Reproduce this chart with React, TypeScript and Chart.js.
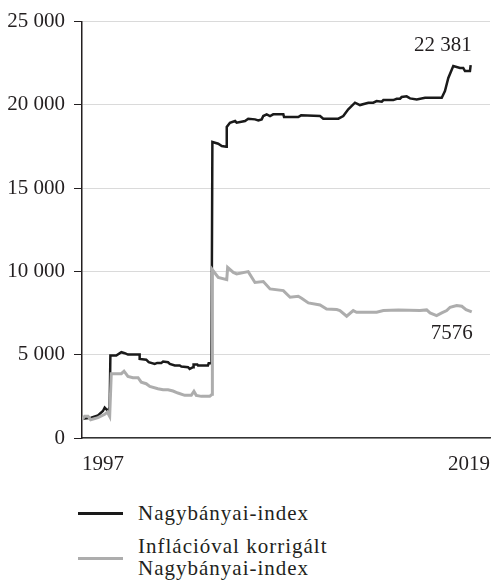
import React, { useEffect, useRef } from 'react';
import { Chart, registerables } from 'chart.js';

Chart.register(...registerables);

// ---- Data (x = year as decimal, y = index value) ----
const blackYears = [
  1997.0, 1997.52, 1997.9, 1998.18, 1998.28, 1998.47, 1998.56, 1998.6, 1998.93, 1999.22,
  1999.41, 1999.59, 2000.25, 2000.25, 2000.62, 2000.76, 2001.1, 2001.24, 2001.47, 2001.57,
  2001.85, 2001.95, 2002.23, 2002.51, 2002.6, 2002.98, 2003.07, 2003.26, 2003.29, 2003.5,
  2003.54, 2004.1, 2004.14, 2004.3, 2004.35, 2004.68, 2004.88, 2005.13, 2005.16, 2005.34,
  2005.63, 2005.72, 2006.19, 2006.37, 2006.75, 2006.94, 2007.13, 2007.22, 2007.41, 2007.6,
  2007.78, 2008.35, 2008.39, 2009.19, 2009.35, 2010.42, 2010.6, 2011.45, 2011.73, 2012.01,
  2012.39, 2012.67, 2013.14, 2013.42, 2013.61, 2013.9, 2013.99, 2014.55, 2014.74, 2014.93,
  2015.02, 2015.3, 2015.49, 2015.87, 2016.34, 2017.28, 2017.46, 2017.65, 2017.93, 2018.31,
  2018.49, 2018.59, 2018.87, 2018.91,
];
const blackValues = [
  1150, 1220, 1360, 1620, 1820, 1620, 1860, 4950, 4950, 5150,
  5090, 5010, 5010, 4750, 4700, 4550, 4450, 4510, 4510, 4590,
  4550, 4450, 4350, 4350, 4290, 4250, 4150, 4250, 4410, 4410,
  4350, 4350, 4490, 4490, 17770, 17670, 17530, 17490, 18670, 18930,
  19030, 18930, 19030, 19170, 19130, 19070, 19130, 19330, 19430, 19330,
  19430, 19430, 19270, 19270, 19370, 19330, 19170, 19170, 19330, 19730,
  20130, 19990, 20130, 20130, 20230, 20190, 20290, 20290, 20370, 20370,
  20470, 20510, 20390, 20330, 20430, 20430, 20830, 21620, 22330, 22220,
  22220, 22030, 22030, 22381,
];
const grayYears = [
  1997.0, 1997.15, 1997.34, 1997.49, 1997.9, 1998.28, 1998.43, 1998.56, 1998.65, 1999.22,
  1999.37, 1999.59, 1999.87, 2000.16, 2000.34, 2000.62, 2000.82, 2001.28, 2001.57, 2001.85,
  2002.13, 2002.41, 2002.79, 2003.16, 2003.31, 2003.44, 2003.73, 2004.2, 2004.33, 2004.35,
  2004.68, 2005.16, 2005.21, 2005.53, 2005.72, 2006.37, 2006.75, 2007.22, 2007.6, 2008.35,
  2008.73, 2009.19, 2009.38, 2009.76, 2010.42, 2010.79, 2011.36, 2011.54, 2011.92, 2012.29,
  2012.48, 2013.61, 2013.99, 2014.83, 2016.05, 2016.43, 2016.62, 2016.99, 2017.28, 2017.56,
  2017.75, 2018.12, 2018.41, 2018.65, 2018.97,
];
const grayValues = [
  1100, 1300, 1300, 1100, 1220, 1420, 1560, 1300, 3860, 3860,
  4010, 3700, 3620, 3620, 3350, 3260, 3100, 2960, 2900, 2900,
  2820, 2700, 2560, 2560, 2800, 2560, 2500, 2500, 2620, 10100,
  9640, 9510, 10240, 9940, 9850, 9990, 9340, 9390, 8950, 8850,
  8450, 8510, 8390, 8110, 7990, 7750, 7710, 7650, 7310, 7650,
  7550, 7550, 7650, 7690, 7650, 7690, 7510, 7350, 7510, 7650,
  7850, 7950, 7910, 7710, 7576,
];

const yTickValues = [0, 5000, 10000, 15000, 20000, 25000];
const xTickValues = [1997, 2020];
const xTickLabels = ['1997', '2019'];
const seriesNames = ['Nagybányai-index', 'Inflációval korrigált', 'Nagybányai-index'];
const endLabels = ['22 381', '7576'];

const FONT = "'Liberation Serif', 'Times New Roman', serif";
const TEXT = '#231f20';
const BLACK = '#1a1a1a';
const GRAY = '#adadad';

const fmt = (v: number) => String(v).replace(/\B(?=(\d{3})+(?!\d))/g, ' ');

const endLabelPlugin = {
  id: 'endLabels',
  afterDatasetsDraw(chart: any) {
    const ctx = chart.ctx;
    ctx.save();
    ctx.font = `21px ${FONT}`;
    ctx.fillStyle = TEXT;
    ctx.textAlign = 'right';
    ctx.textBaseline = 'alphabetic';
    const m0 = chart.getDatasetMeta(0);
    const p0 = m0.data[m0.data.length - 1];
    ctx.fillText(endLabels[0], p0.x + 1, p0.y - 14);
    const m1 = chart.getDatasetMeta(1);
    const p1 = m1.data[m1.data.length - 1];
    ctx.fillText(endLabels[1], p1.x + 1, p1.y + 27);
    ctx.restore();
  },
};

export default function App() {
  const ref = useRef<HTMLCanvasElement | null>(null);

  useEffect(() => {
    if (!ref.current) return;
    const chart = new Chart(ref.current, {
      type: 'line',
      data: {
        datasets: [
          {
            label: seriesNames[0],
            data: blackYears.map((x, i) => ({ x, y: blackValues[i] })),
            borderColor: BLACK,
            borderWidth: 2.5,
            pointRadius: 0,
            tension: 0,
            order: 1,
          },
          {
            label: seriesNames[1] + ' ' + seriesNames[2],
            data: grayYears.map((x, i) => ({ x, y: grayValues[i] })),
            borderColor: GRAY,
            borderWidth: 3,
            pointRadius: 0,
            tension: 0,
            order: 0,
          },
        ],
      },
      options: {
        animation: false,
        responsive: false,
        maintainAspectRatio: false,
        layout: { padding: { top: 20, right: 2, left: 0, bottom: 0 } },
        plugins: {
          legend: { display: false },
          tooltip: { enabled: false },
        },
        scales: {
          x: {
            type: 'linear',
            min: xTickValues[0],
            max: xTickValues[1],
            afterFit: (s: any) => {
              s.height = 42;
              s.paddingLeft = 0;
              s.paddingRight = 0;
            },
            afterBuildTicks: (s: any) => {
              s.ticks = xTickValues.map((v) => ({ value: v }));
            },
            ticks: {
              callback: (_v: any, i: number) => xTickLabels[i],
              align: 'inner',
              maxRotation: 0,
              autoSkip: false,
              padding: 14,
              font: { family: FONT, size: 21 },
              color: TEXT,
            },
            grid: { display: false, drawTicks: false, tickLength: 0 },
            border: { display: true, color: '#333333', width: 1.5 },
          },
          y: {
            min: 0,
            max: 25000,
            afterFit: (s: any) => {
              s.width = 82;
            },
            afterBuildTicks: (s: any) => {
              s.ticks = yTickValues.map((v) => ({ value: v }));
            },
            ticks: {
              callback: (v: any) => fmt(Number(v)),
              padding: 9,
              font: { family: FONT, size: 21 },
              color: TEXT,
            },
            grid: {
              color: '#dadada',
              lineWidth: 1,
              tickColor: TEXT,
              tickLength: 8,
              drawTicks: true,
            },
            border: { display: true, color: TEXT, width: 1.5 },
          },
        },
      },
      plugins: [endLabelPlugin],
    } as any);
    return () => chart.destroy();
  }, []);

  const textStyle: React.CSSProperties = {
    position: 'absolute',
    left: 138,
    fontFamily: FONT,
    fontSize: 21,
    lineHeight: '21.5px',
    letterSpacing: '1px',
    color: TEXT,
    whiteSpace: 'nowrap',
  };

  return (
    <div style={{ position: 'absolute', left: 0, top: 0, width: 492, height: 581 }}>
      <canvas ref={ref} width={492} height={480} style={{ display: 'block', width: 492, height: 480 }} />
      <div style={{ position: 'absolute', left: 78, top: 512, width: 45, height: 2.5, background: BLACK }} />
      <div style={{ ...textStyle, top: 503 }}>{seriesNames[0]}</div>
      <div style={{ position: 'absolute', left: 78, top: 556.5, width: 45, height: 3.5, background: GRAY }} />
      <div style={{ ...textStyle, top: 536 }}>
        {seriesNames[1]}
        <br />
        {seriesNames[2]}
      </div>
    </div>
  );
}
